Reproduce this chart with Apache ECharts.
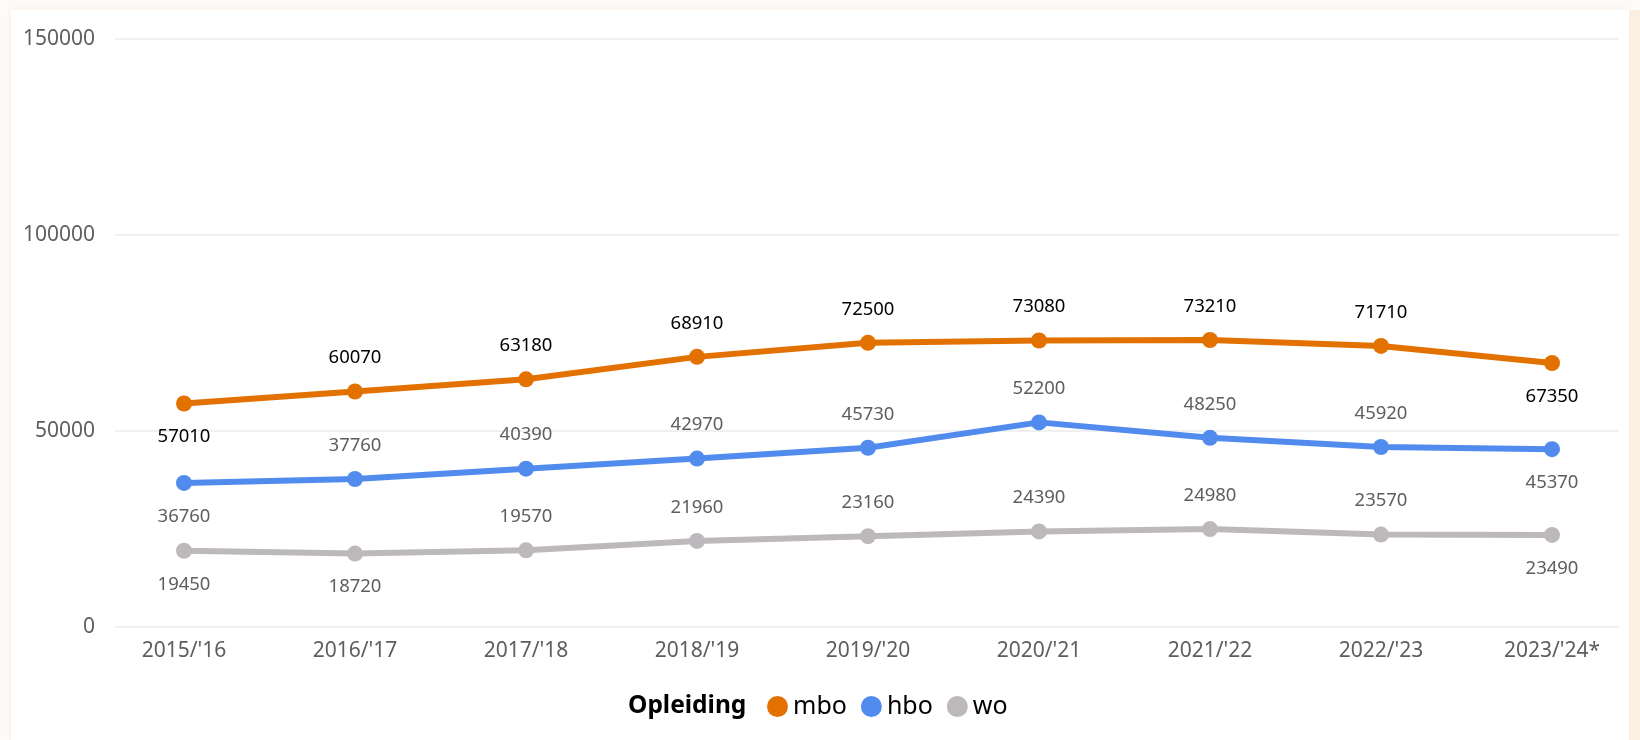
<!DOCTYPE html>
<html>
<head>
<meta charset="utf-8">
<script src="https://cdn.jsdelivr.net/npm/echarts@6/dist/echarts.min.js"></script>
<style>
  html, body { margin: 0; padding: 0; width: 1640px; height: 740px; overflow: hidden; background: #fdfbf9; }
  #card { position: absolute; left: 11px; top: 10px; width: 1618px; height: 730px; background: #ffffff; box-shadow: 0 0 6px rgba(240,225,210,0.6); }
  #strip { position: absolute; left: 1629px; top: 10px; width: 11px; height: 730px; background: #fbeee2; }
  #chart { position: absolute; left: 0; top: 0; width: 1640px; height: 740px; }
</style>
</head>
<body>
<div id="card"></div>
<div id="strip"></div>
<div id="chart"></div>
<script>
const categories = ["2015/'16", "2016/'17", "2017/'18", "2018/'19", "2019/'20", "2020/'21", "2021/'22", "2022/'23", "2023/'24*"];
const mbo = [57010, 60070, 63180, 68910, 72500, 73080, 73210, 71710, 67350];
const hbo = [36760, 37760, 40390, 42970, 45730, 52200, 48250, 45920, 45370];
const wo  = [19450, 18720, 19570, 21960, 23160, 24390, 24980, 23570, 23490];
const seriesNames = ['mbo', 'hbo', 'wo'];
const yTicks = [0, 50000, 100000, 150000];

// label placement per point (style, kept apart from values)
const mboSide = ['bottom', 'top', 'top', 'top', 'top', 'top', 'top', 'top', 'bottom'];
const hboSide = ['bottom', 'top', 'top', 'top', 'top', 'top', 'top', 'top', 'bottom'];
const woSide  = ['bottom', 'bottom', 'top', 'top', 'top', 'top', 'top', 'top', 'bottom'];

const FONT = "'Noto Sans', 'Open Sans', sans-serif";
const colors = ['#e37100', '#528bee', '#bdb8bb'];
const labelColors = ['#000000', '#605e5c', '#605e5c'];

function buildData(vals, sides) {
  return vals.map((v, i) => ({ value: v, label: { position: sides[i] } }));
}

const chart = echarts.init(document.getElementById('chart'), null, { renderer: 'canvas' });
const gTop = 39, gBottom = 740 - 627;

const lineSeries = [mbo, hbo, wo].map((vals, k) => ({
  name: seriesNames[k],
  type: 'line',
  xAxisIndex: 1,
  yAxisIndex: 1,
  data: buildData(vals, [mboSide, hboSide, woSide][k]),
  symbol: 'circle',
  symbolSize: 16,
  smooth: false,
  lineStyle: { width: 6, color: colors[k] },
  itemStyle: { color: colors[k] },
  label: {
    show: true,
    distance: 16,
    fontFamily: FONT,
    fontSize: 18.5,
    color: labelColors[k]
  },
  z: 10 - k
}));

chart.setOption({
  animation: false,
  color: colors,
  title: {
    text: 'Opleiding',
    left: 628,
    top: 694,
    padding: 0,
    textStyle: { fontFamily: FONT, fontSize: 24.5, fontWeight: 'bold', color: '#000000' }
  },
  legend: {
    data: seriesNames,
    left: 767,
    top: 694,
    padding: 0,
    icon: 'circle',
    itemWidth: 21,
    itemHeight: 21,
    itemGap: 14,
    textStyle: { fontFamily: FONT, fontSize: 25, color: '#000000' }
  },
  grid: [
    { left: 115, right: 21, top: gTop, bottom: gBottom },
    { left: 184, right: 88, top: gTop, bottom: gBottom }
  ],
  xAxis: [
    { type: 'value', gridIndex: 0, min: 0, max: 1, show: false },
    {
      type: 'category',
      gridIndex: 1,
      data: categories,
      boundaryGap: false,
      axisLine: { show: false },
      axisTick: { show: false },
      axisLabel: { fontFamily: FONT, fontSize: 21, color: '#605e5c', margin: 14 }
    }
  ],
  yAxis: [
    {
      type: 'value',
      gridIndex: 0,
      min: yTicks[0],
      max: yTicks[yTicks.length - 1],
      interval: yTicks[1] - yTicks[0],
      axisLine: { show: false },
      axisTick: { show: false },
      axisLabel: { fontFamily: FONT, fontSize: 21, color: '#605e5c', margin: 20, formatter: v => String(v) },
      splitLine: { lineStyle: { color: '#f0f0f0', width: 2 } }
    },
    {
      type: 'value',
      gridIndex: 1,
      min: yTicks[0],
      max: yTicks[yTicks.length - 1],
      interval: yTicks[1] - yTicks[0],
      show: false,
      splitLine: { show: false }
    }
  ],
  series: lineSeries
});
</script>
</body>
</html>
